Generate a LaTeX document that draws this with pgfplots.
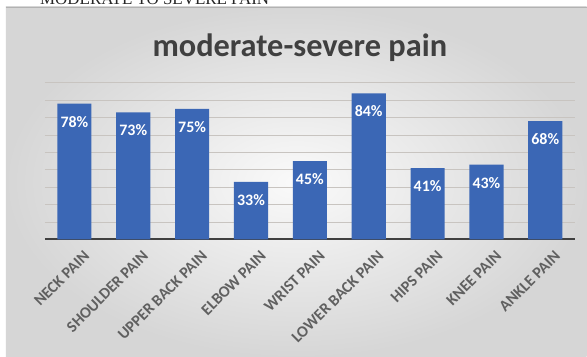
\documentclass[border=0pt]{standalone}
\usepackage{pgfplots}
\pgfplotsset{compat=1.18}
\usepackage{fontspec}
\setmainfont{Carlito}
\newfontfamily\serifcap{Liberation Serif}
\definecolor{barblue}{RGB}{59,103,181}
\definecolor{gridc}{RGB}{200,196,192}
\definecolor{titlec}{RGB}{64,64,64}
\definecolor{labc}{RGB}{96,96,96}
\begin{document}
\begin{tikzpicture}[x=1bp,y=1bp]
\fill[white] (0,0) rectangle (587,357);
\shade[inner color=white!96!gray, outer color=gray!32] (6,0) rectangle (587,350);
\draw[gray!60, line width=0.6bp] (6,350) -- (587,350);
\begin{scope}
\clip (0,350.5) rectangle (587,357);
\node[anchor=base west, inner sep=0pt, font=\serifcap\fontsize{17}{17}\selectfont, text=black!85] at (40,352) {MODERATE TO SEVERE PAIN};
\end{scope}
\node[anchor=base, inner sep=0pt, font=\bfseries\fontsize{32.5}{33}\selectfont, text=titlec] at (300,300) {moderate-severe pain};
\begin{axis}[
  at={(45bp,117.5bp)}, anchor=south west,
  scale only axis, width=530bp, height=156.6bp,
  xmin=-0.5, xmax=8.5, ymin=0, ymax=90,
  ybar, bar width=0.58,
  axis x line*=bottom, axis y line*=left,
  y axis line style={draw=none}, ytick style={draw=none}, yticklabels={},
  x axis line style={line width=1.8bp, color=black!75},
  ytick={10,20,...,90}, ymajorgrids, grid style={gridc, line width=0.9bp},
  xtick=data, xtick style={draw=none},
  xticklabels={NECK PAIN,SHOULDER PAIN,UPPER BACK PAIN,ELBOW PAIN,WRIST PAIN,LOWER BACK PAIN,HIPS PAIN,KNEE PAIN,ANKLE PAIN},
  xticklabel style={rotate=45, anchor=north east, font=\bfseries\fontsize{16}{16}\selectfont, text=labc, inner sep=1bp, yshift=-9bp, xshift=3bp},
  /pgf/number format/assume math mode=true,
  nodes near coords={\pgfmathprintnumber{\pgfplotspointmeta}\%},
  every node near coord/.append style={anchor=center, yshift=-18bp, font=\bfseries\fontsize{16}{16}\selectfont, text=white},
  clip=false,
]
\addplot[fill=barblue, draw=none] coordinates {(0,78) (1,73) (2,75) (3,33) (4,45) (5,84) (6,41) (7,43) (8,68)};
\end{axis}
\end{tikzpicture}
\end{document}
